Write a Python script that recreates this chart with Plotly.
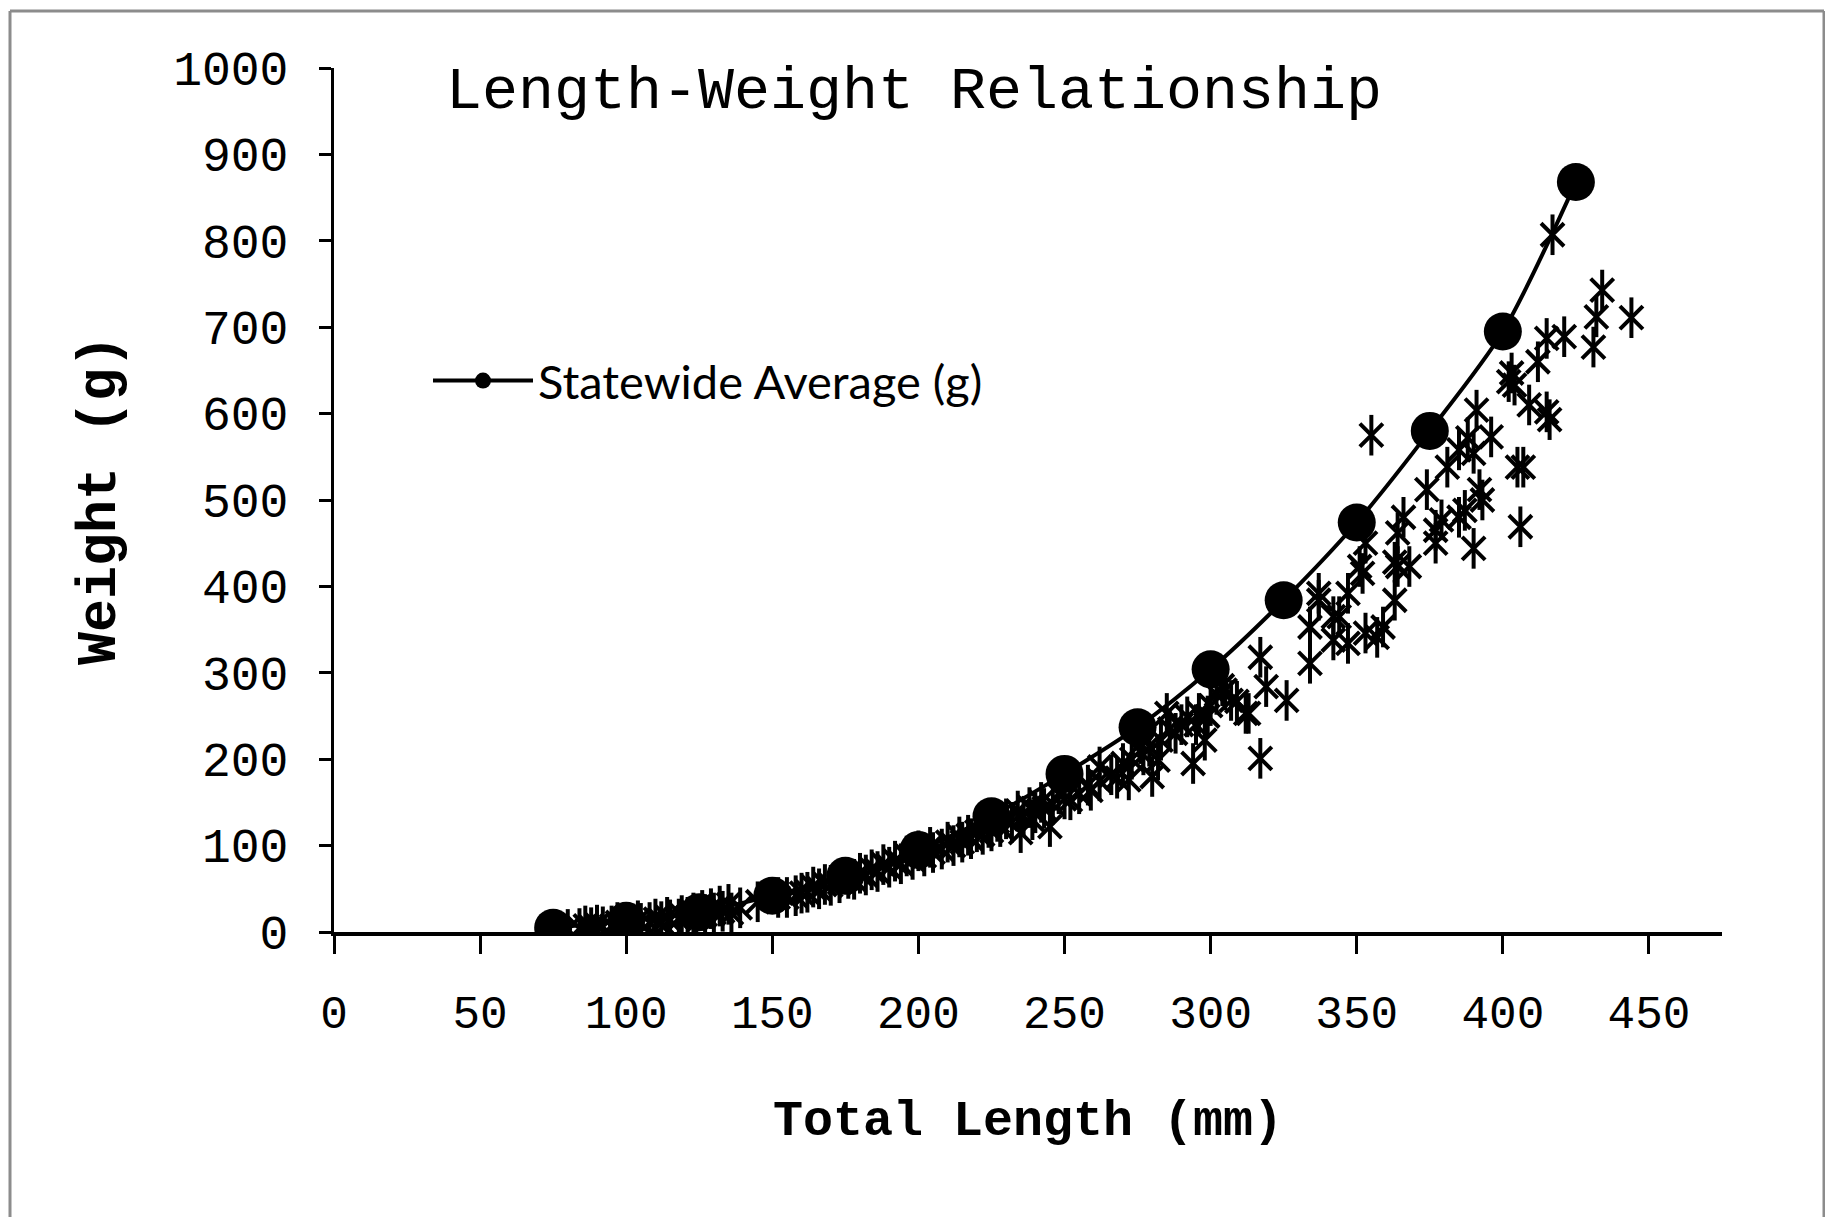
import plotly.graph_objects as go

# Statewide average (g) by total length (mm)
avg_length = [75, 100, 125, 150, 175, 200, 225, 250, 275, 300, 325, 350, 375, 400, 425]
avg_weight = [5, 13, 23, 42, 65, 95, 134, 183, 237, 304, 384, 474, 580, 695, 868]

# Individual fish: total length (mm)
fish_length = [
    80, 84, 88, 92, 95, 98, 102, 105, 108, 112, 115, 118, 121, 124, 127, 130, 133, 136, 139,
    86, 90, 97, 104, 110, 114, 119, 123, 126, 129, 132, 135,
    145, 155, 158, 162, 166, 170, 173, 178, 182, 186, 190, 194, 198, 202, 205, 208, 212,
    152, 160, 164, 168, 176, 180, 184, 188, 192, 196, 200, 204, 210, 214,
    215, 218, 222, 225, 228, 232, 236, 240, 243, 246, 250,
    217, 220, 224, 227, 230, 234, 238, 242, 248,
    255, 258, 262, 266, 268, 270, 273, 277, 279, 283, 286, 288, 290, 295, 299, 300, 302, 304,
    235, 239, 245, 252, 259, 262, 272, 276, 280, 282, 285, 292, 294, 296, 298,
    305, 307, 309, 312, 313, 317, 317, 319, 326, 334, 334, 337, 337, 342, 342, 344, 347, 347,
    351, 352, 353, 353, 355, 357, 359, 363, 363, 364, 364, 366, 368,
    374, 377, 377, 379, 381, 385, 385, 387, 388, 390, 390, 391, 392, 393, 396,
    402, 403, 404, 405, 406, 407, 409, 412, 415, 415, 416, 417, 421, 431, 432, 434, 444,
]
# Individual fish: weight (g)
fish_weight = [
    3, 4, 5, 6, 7, 8, 9, 10, 11, 12, 14, 15, 17, 18, 20, 22, 24, 22, 28,
    7, 8, 11, 13, 15, 17, 19, 22, 25, 27, 30, 32,
    35, 40, 42, 46, 50, 54, 57, 61, 66, 70, 75, 79, 84, 88, 92, 96, 100,
    40, 45, 52, 55, 62, 68, 72, 78, 82, 88, 94, 98, 104, 110,
    104, 108, 113, 117, 122, 127, 134, 138, 143, 148, 154,
    112, 116, 121, 128, 131, 140, 144, 150, 160,
    160, 170, 175, 182, 178, 195, 200, 205, 215, 222, 235, 230, 240, 240, 250, 262, 275, 285,
    115, 130, 122, 153, 164, 191, 176, 218, 180, 199, 253, 249, 195, 253, 222,
    280, 268, 267, 253, 253, 318, 201, 284, 268, 311, 353, 384, 392, 338, 365, 365, 334, 392,
    423, 415, 450, 346, 575, 341, 353, 384, 428, 423, 462, 480, 423,
    512, 450, 465, 477, 538, 480, 558, 488, 572, 444, 554, 604, 512, 500, 573,
    637, 647, 633, 538, 469, 538, 610, 660, 602, 687, 593, 807, 689, 677, 712, 743, 711,
]

x_ticks = [0, 50, 100, 150, 200, 250, 300, 350, 400, 450]
y_ticks = [0, 100, 200, 300, 400, 500, 600, 700, 800, 900, 1000]

MONO = "Courier New, Liberation Mono, monospace"

fig = go.Figure()

# Excel-style star marker: an X plus a vertical bar
fig.add_trace(go.Scatter(
    x=fish_length, y=fish_weight, mode="markers", showlegend=False, hoverinfo="x+y",
    marker=dict(symbol="x-thin-open", size=23, color="black", line=dict(width=4, color="black")),
))
fig.add_trace(go.Scatter(
    x=fish_length, y=fish_weight, mode="markers", showlegend=False, hoverinfo="skip",
    marker=dict(symbol="line-ns-open", size=29, color="black", line=dict(width=4, color="black")),
))

fig.add_trace(go.Scatter(
    x=avg_length, y=avg_weight, mode="lines+markers", name="Statewide Average (g)",
    line=dict(color="black", width=4, shape="spline", smoothing=0.8),
    marker=dict(symbol="circle", size=38, color="black"),
))

# plot area in figure pixels (page has an 8px body margin)
L, R, T, B = 326, 1714, 60, 924
W, H = 1833, 1217
pw, ph = R - L, B - T

def px(x):
    return (x - L) / pw

def py(y):
    return (B - y) / ph

frame = dict(color="#8c8c8c", width=3)
shapes = [
    dict(type="line", xref="paper", yref="paper", x0=px(2), x1=px(1816), y0=py(3), y1=py(3), line=frame),
    dict(type="line", xref="paper", yref="paper", x0=px(2), x1=px(2), y0=py(3), y1=py(1240), line=frame),
    dict(type="line", xref="paper", yref="paper", x0=px(1816), x1=px(1816), y0=py(3), y1=py(1240), line=frame),
]

fig.update_layout(
    width=W, height=H,
    margin=dict(l=L, r=W - R, t=T, b=H - B, pad=0),
    paper_bgcolor="white", plot_bgcolor="white",
    shapes=shapes,
    title=dict(
        text="Length-Weight Relationship",
        font=dict(family=MONO, size=60, color="black"),
        x=(906 - L) / pw, xref="paper", xanchor="center",
        y=1 - 79 / H, yref="container", yanchor="middle",
    ),
    legend=dict(
        x=px(420), y=py(373), xanchor="left", yanchor="middle",
        xref="paper", yref="paper",
        font=dict(family="Lato, Noto Sans, sans-serif", size=47, color="black"),
        bgcolor="rgba(0,0,0,0)", itemwidth=100, itemsizing="trace",
    ),
    showlegend=True,
)

fig.update_xaxes(
    range=[0, 475], tickvals=x_ticks, ticktext=[str(v) for v in x_ticks],
    showgrid=False, zeroline=False,
    showline=True, linecolor="black", linewidth=4,
    ticks="outside", ticklen=18, tickwidth=3, tickcolor="black",
    ticklabelstandoff=19,
    tickfont=dict(family=MONO, size=46, color="black"),
    title=dict(text="<b>Total Length (mm)</b>", font=dict(family=MONO, size=50, color="black"), standoff=60),
    automargin=False,
)
fig.update_yaxes(
    range=[0, 1000], tickvals=y_ticks, ticktext=[str(v) for v in y_ticks],
    showgrid=False, zeroline=False,
    showline=True, linecolor="black", linewidth=3,
    ticks="outside", ticklen=12, tickwidth=3, tickcolor="black",
    ticklabelstandoff=21,
    tickfont=dict(family=MONO, size=48, color="black"),
    title=dict(text="<b>Weight (g)</b>", font=dict(family=MONO, size=55, color="black"), standoff=40),
    automargin=False,
)

fig.write_html("out.html")
